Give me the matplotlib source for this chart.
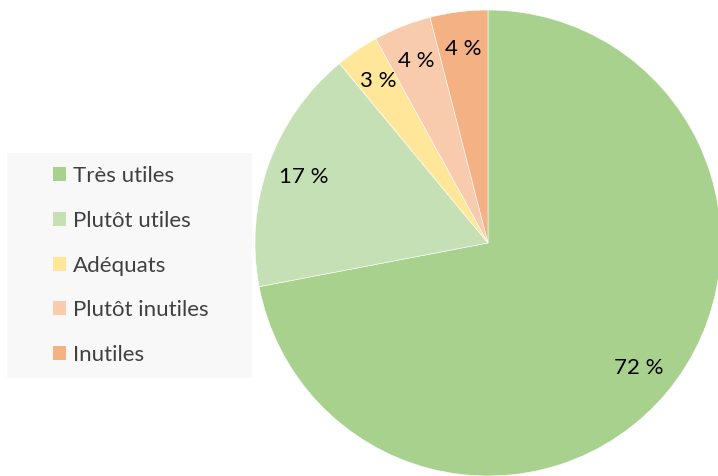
import matplotlib.pyplot as plt
from matplotlib.patches import Patch, Rectangle

labels = ['Très utiles', 'Plutôt utiles', 'Adéquats', 'Plutôt inutiles', 'Inutiles']
values = [72, 17, 3, 4, 4]
colors = ['#a9d18e', '#c5e0b4', '#ffe699', '#f8cbad', '#f4b183']

plt.rcParams['font.family'] = ['Lato', 'DejaVu Sans']

W, H = 718, 476
fig = plt.figure(figsize=(W / 100, H / 100), dpi=100)
fig.patch.set_facecolor('white')

# pie axes: centre (488, 243) px, radius 233 px
cx, cy, r = 488, 243, 233
ax = fig.add_axes([(cx - r) / W, (H - cy - r) / H, 2 * r / W, 2 * r / H])
wedges, texts, autotexts = ax.pie(
    values, colors=colors, startangle=90, counterclock=False,
    autopct=lambda p: f'{p:.0f} %', pctdistance=0.84,
    wedgeprops=dict(edgecolor='white', linewidth=0.4),
    textprops=dict(fontsize=16, color='black'))
for w in wedges:
    w.set_clip_on(False)
ax.set_xlim(-1, 1)
ax.set_ylim(-1, 1)
ax.set_aspect('equal')
ax.axis('off')

# legend background box
fig.patches.append(Rectangle((7 / W, 1 - 378 / H), 245 / W, 225 / H,
                             transform=fig.transFigure, facecolor='#f8f8f8',
                             edgecolor='none', zorder=0))

handles = [Patch(facecolor=c, edgecolor='none') for c in colors]
leg = fig.legend(handles, labels, loc='center left',
                 bbox_to_anchor=(53 / W, 1 - 265.5 / H),
                 fontsize=16, frameon=False,
                 handlelength=0.6, handleheight=0.6, handletextpad=0.3,
                 labelspacing=1.11, borderpad=0, borderaxespad=0)
for t in leg.get_texts():
    t.set_color('#404040')

fig.savefig('out.png', dpi=100)
